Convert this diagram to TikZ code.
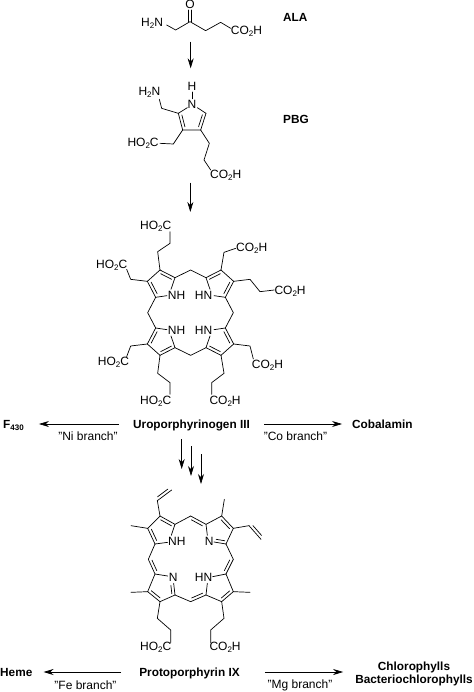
\documentclass[tikz,border=0pt]{standalone}
\usepackage{fontspec}
\setmainfont{Liberation Sans}
\usetikzlibrary{calc,arrows.meta}
\newcommand\chsub[1]{\raisebox{-0.3ex}{\fontsize{8}{8}\selectfont #1}}
\newcommand\COOH{CO\chsub{2}H}
\newcommand\HOOC{HO\chsub{2}C}
\newcommand\HHN{H\chsub{2}N}
% double bond: #1,#2 coordinates, #3 offset (signed)
\newcommand\dbond[3]{\draw[bond] (#1) -- (#2);
  \draw[bond] ($(#1)!.14!(#2)!#3!90:(#2)$) -- ($(#2)!.14!(#1)!#3!-90:(#1)$);}
\tikzset{
  bond/.style={line width=0.7pt,line join=round,line cap=round},
  lab/.style={anchor=base west,inner sep=0pt,yshift=-4.3pt,font=\fontsize{12}{14}\selectfont},
  clab/.style={anchor=base,inner sep=0pt,yshift=-4.3pt,font=\fontsize{12}{14}\selectfont},
  cpd/.style={inner sep=0pt,text height=8.5pt,text depth=0pt,font=\fontsize{11.8}{14}\selectfont\bfseries},
  branch/.style={anchor=center,inner sep=0pt,font=\fontsize{12}{14}\selectfont},
  rxn/.style={line width=0.7pt,-{Stealth[length=10pt,width=6pt]}},
}
\begin{document}
\begin{tikzpicture}[x=1pt,y=-1pt]
\useasboundingbox (0,0) rectangle (473,692);
\fill[white] (0,0) rectangle (473,692);

%% ALA and PBG, in coordinates of the first crop
\begin{scope}[shift={(110,0)},scale=1/3]
 \node[lab] (alaN) at (93,67) {\HHN};
 \node[clab] (alaO) at (240,14) {O};
 \node[lab] (alaC) at (362,92) {\COOH};
 \coordinate (a1) at (197,90); \coordinate (a2) at (240,65); \coordinate (a3) at (287,92);
 \coordinate (a4) at (332,67);
 \draw[bond] (170,75) -- (a1) -- (a2) (a2) -- (a3) -- (a4) -- (362,85);
 \draw[bond] (235.5,65) -- (235.5,30) (244.5,65) -- (244.5,30);
 \coordinate (ar1s) at (242,125); \coordinate (ar1e) at (242,205);
 % PBG
 \node[clab] (pH) at (246,260) {H};
 \node[clab] (pN) at (246,312) {N};
 \node[lab] (pN2) at (85,275) {\HHN};
 \node[lab] (pC1) at (52,428) {\HOOC};
 \node[lab] (pC2) at (300,522) {\COOH};
 \coordinate (p1) at (288,340); \coordinate (p2) at (272,390); \coordinate (p3) at (218,390); \coordinate (p4) at (205,340);
 \draw[bond] (246,276) -- (246,296);
 \draw[bond] (232,323) -- (p4) (262,323) -- (p1) (p2) -- (p3);
 \dbond{p1}{p2}{-9pt}
 \dbond{p3}{p4}{-9pt}
 \draw[bond] (p4) -- (155,325) -- (148,298);
 \draw[bond] (p3) -- (190,432) -- (150,430);
 \draw[bond] (p2) -- (298,430) -- (282,480) -- (302,510);
 \coordinate (ar2s) at (241,548); \coordinate (ar2e) at (241,636);
\end{scope}
\node[cpd,anchor=west] (ala) at (283,17) {ALA};
\node[cpd,anchor=west] (pbg) at (283,119) {PBG};
\draw[rxn] (ar1s) -- (ar1e);
\draw[rxn] (ar2s) -- (ar2e);

%% Uroporphyrinogen III, in coordinates of the second crop
\begin{scope}[shift={(90,210)},scale=1/3]
 \coordinate (A1) at (210,180); \coordinate (B1) at (255,203); \coordinate (C1) at (197,262); \coordinate (D1) at (172,214);
 \coordinate (A2) at (393,180); \coordinate (B2) at (348,203); \coordinate (C2) at (406,262); \coordinate (D2) at (431,214);
 \coordinate (A3) at (210,436); \coordinate (B3) at (255,413); \coordinate (C3) at (197,354); \coordinate (D3) at (172,402);
 \coordinate (A4) at (393,436); \coordinate (B4) at (348,413); \coordinate (C4) at (406,354); \coordinate (D4) at (431,402);
 \node[lab] (un1) at (233,255) {NH};
 \node[lab] (un2) at (314,255) {HN};
 \node[lab] (un3) at (233,361) {NH};
 \node[lab] (un4) at (314,361) {HN};
 % rings
 \draw[bond] (D1) -- (A1) (B1) -- (243,238) (C1) -- (231,257);
 \draw[bond] (D2) -- (A2) (B2) -- (360,238) (C2) -- (372,257);
 \draw[bond] (D3) -- (A3) (B3) -- (243,378) (C3) -- (231,359);
 \draw[bond] (D4) -- (A4) (B4) -- (360,378) (C4) -- (372,359);
 \dbond{A1}{B1}{-9pt} \dbond{C1}{D1}{-9pt}
 \dbond{A2}{B2}{9pt} \dbond{C2}{D2}{9pt}
 \dbond{A3}{B3}{9pt} \dbond{C3}{D3}{9pt}
 \dbond{A4}{B4}{-9pt} \dbond{C4}{D4}{-9pt}
 % meso bridges
 \draw[bond] (B1) -- (302,180) -- (B2);
 \draw[bond] (B3) -- (302,436) -- (B4);
 \draw[bond] (C1) -- (173,308) -- (C3);
 \draw[bond] (C2) -- (430,308) -- (C4);
 % side chains
 \draw[bond] (A1) -- (203,125) -- (240,100) -- (240,65);
 \draw[bond] (D1) -- (122,208) -- (110,178);
 \draw[bond] (A2) -- (402,127) -- (437,115);
 \draw[bond] (D2) -- (480,208) -- (510,245) -- (553,240);
 \draw[bond] (D3) -- (122,408) -- (110,440);
 \draw[bond] (A3) -- (203,490) -- (240,518) -- (240,553);
 \draw[bond] (D4) -- (480,408) -- (490,447);
 \draw[bond] (A4) -- (402,490) -- (365,518) -- (365,553);
 \node[lab] (uc1) at (150,47) {\HOOC};
 \node[lab] (uc2) at (18,162) {\HOOC};
 \node[lab] (uc3) at (438,112) {\COOH};
 \node[lab] (uc4) at (553,241) {\COOH};
 \node[lab] (uc5) at (23,455) {\HOOC};
 \node[lab] (uc6) at (150,572) {\HOOC};
 \node[lab] (uc7) at (485,463) {\COOH};
 \node[lab] (uc8) at (358,572) {\COOH};
\end{scope}

%% Protoporphyrin IX, in coordinates of the third crop
\begin{scope}[shift={(100,470)},scale=1/3]
 \coordinate (a1) at (180,138); \coordinate (b1) at (225,163); \coordinate (c1) at (165,222); \coordinate (d1) at (143,175);
 \coordinate (a2) at (365,138); \coordinate (b2) at (318,163); \coordinate (c2) at (378,222); \coordinate (d2) at (400,175);
 \coordinate (a3) at (180,395); \coordinate (b3) at (225,375); \coordinate (c3) at (165,312); \coordinate (d3) at (143,365);
 \coordinate (a4) at (365,395); \coordinate (b4) at (318,375); \coordinate (c4) at (378,312); \coordinate (d4) at (400,365);
 \coordinate (mt) at (272,138); \coordinate (mb) at (272,395); \coordinate (ml) at (145,268); \coordinate (mr) at (400,268);
 \coordinate (n2e) at (342,216); \coordinate (n3e) at (221,340);
 \coordinate (v1) at (172,92); \coordinate (v2) at (215,60); \coordinate (v3) at (447,167); \coordinate (v4) at (483,208);
 \node[lab] (pn1) at (204,213) {NH};
 \node[lab] (pn2) at (314,213) {N};
 \node[lab] (pn3) at (206,323) {N};
 \node[lab] (pn4) at (284,323) {HN};
 % singles of the rings
 \draw[bond] (d1) -- (a1) (b1) -- (214,196) (c1) -- (203,217);
 \draw[bond] (a2) -- (b2) (b2) -- (322,196) (c2) -- (d2);
 \draw[bond] (a3) -- (b3) (c3) -- (d3) (c3) -- (203,318);
 \draw[bond] (a4) -- (b4) (c4) -- (d4) (b4) -- (322,340) (c4) -- (338,320);
 % doubles of the rings
 \dbond{a1}{b1}{-9pt}
 \dbond{c1}{d1}{-9pt}
 \dbond{a2}{d2}{-9pt}
 \dbond{c2}{n2e}{-9pt}
 \dbond{n3e}{b3}{-9pt}
 \dbond{d3}{a3}{9pt}
 \dbond{d4}{a4}{-9pt}
 % meso bridges
 \draw[bond] (b1) -- (mt);
 \dbond{mt}{b2}{-9pt}
 \draw[bond] (c1) -- (ml);
 \dbond{ml}{c3}{9pt}
 \draw[bond] (c2) -- (mr);
 \dbond{mr}{c4}{-9pt}
 \draw[bond] (b3) -- (mb);
 \dbond{mb}{b4}{9pt}
 % side chains
 \draw[bond] (a1) -- (v1);
 \dbond{v1}{v2}{9pt}
 \draw[bond] (d1) -- (93,167);
 \draw[bond] (a2) -- (373,88);
 \draw[bond] (d2) -- (v3);
 \dbond{v3}{v4}{9pt}
 \draw[bond] (d3) -- (93,367);
 \draw[bond] (d4) -- (450,367);
 \draw[bond] (a3) -- (172,445) -- (212,480) -- (212,518);
 \draw[bond] (a4) -- (372,445) -- (332,480) -- (332,518);
 \node[lab] (pc1) at (120,530) {\HOOC};
 \node[lab] (pc2) at (328,530) {\COOH};
\end{scope}

%% Compound names
\node[cpd] (uro) at (191.5,424) {Uroporphyrinogen III};
\node[cpd] (proto) at (189.5,672) {Protoporphyrin IX};
\node[cpd,anchor=west] (f430) at (3,424) {F\chsub{430}};
\node[cpd,anchor=west] (cob) at (352,424) {Cobalamin};
\node[cpd,anchor=west] (heme) at (0,672) {Heme};
\node[cpd] (chl) at (414,666) {Chlorophylls};
\node[cpd] (bchl) at (414,679) {Bacteriochlorophylls};
\coordinate (chlin) at (bchl.west |- proto);

%% Branch arrows
\draw[rxn,shorten <=14pt,shorten >=15pt] (uro) -- (f430);
\draw[rxn,shorten <=14pt,shorten >=10pt] (uro) -- (cob);
\draw[rxn,shorten <=18pt,shorten >=11pt] (proto) -- (heme);
\draw[rxn,shorten <=25pt,shorten >=12pt] (proto) -- (chlin);

\node[branch] (ni) at (88,436) {"Ni branch"};
\node[branch] (co) at (295.5,436) {"Co branch"};
\node[branch] (fe) at (85.5,685) {"Fe branch"};
\node[branch] (mg) at (300,685) {"Mg branch"};

%% Three step arrows
\coordinate (s1a) at (181.7,439); \coordinate (s1b) at (181.7,469);
\coordinate (s2a) at (191,446);   \coordinate (s2b) at (191,476);
\coordinate (s3a) at (201,454);   \coordinate (s3b) at (201,484);
\draw[rxn] (s1a) -- (s1b);
\draw[rxn] (s2a) -- (s2b);
\draw[rxn] (s3a) -- (s3b);
\end{tikzpicture}
\end{document}
